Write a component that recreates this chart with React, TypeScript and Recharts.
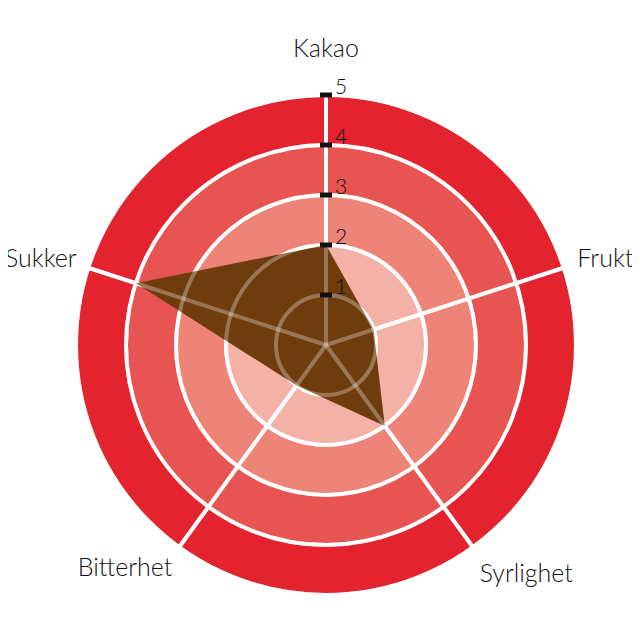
import React from "react";
import {
  PolarAngleAxis,
  PolarGrid,
  PolarRadiusAxis,
  Radar,
  RadarChart,
} from "recharts";

// smaksprofil
const attributes = ["Kakao", "Frukt", "Syrlighet", "Bitterhet", "Sukker"];
const scores = [2, 1, 2, 1, 4];
const bandLevels = [5, 4, 3, 2, 1];
const bandColors = ["#e3232d", "#e85451", "#ee8478", "#f4b1a5", "#f9d6ce"];
const radiusTicks = [0, 1, 2, 3, 4, 5];

const data = attributes.map((name, i) => {
  const row: Record<string, string | number> = { name, score: scores[i] };
  bandLevels.forEach((lvl) => {
    row["band" + lvl] = lvl;
  });
  return row;
});

const FONT = "Lato, 'Noto Sans', sans-serif";

const Band = (color: string) => (props: any) => {
  const p = props.points && props.points[0];
  if (!p) return null;
  return <circle cx={p.cx} cy={p.cy} r={p.radius} fill={color} />;
};

const AngleTick = (props: any) => {
  const { x, y, cx, cy, payload } = props;
  const dx = x - cx;
  const dy = y - cy;
  let anchor = "middle";
  let ox = 0;
  let oy = 0;
  if (Math.abs(dx) < 2) {
    oy = -40;
  } else if (dy < 0) {
    anchor = dx > 0 ? "start" : "end";
    ox = dx > 0 ? 6 : -4;
    oy = -8;
  } else if (dx > 0) {
    anchor = "start";
    ox = 2;
    oy = 18;
  } else {
    anchor = "end";
    ox = -2;
    oy = 12;
  }
  return (
    <text
      x={x + ox}
      y={y + oy}
      textAnchor={anchor}
      dominantBaseline="central"
      fontFamily={FONT}
      fontWeight={300}
      fontSize={25}
      fill="#111"
    >
      {payload.value}
    </text>
  );
};

const RadiusTick = (props: any) => {
  const { x, y, payload } = props;
  if (payload.value === 0) return <g />;
  return (
    <g>
      <rect x={x - 6} y={y - 2.5} width={12} height={5} fill="#111" />
      <text
        x={x + 9}
        y={y - 1}
        textAnchor="start"
        fontFamily={FONT}
        fontWeight={300}
        fontSize={21}
        fill="#111"
      >
        {payload.value}
      </text>
    </g>
  );
};

export default function App() {
  return (
    <div style={{ margin: "-8px 0 0 -8px", width: 640, height: 641 }}>
      <RadarChart
        width={640}
        height={641}
        data={data}
        cx={326}
        cy={345}
        outerRadius={250}
        margin={{ top: 0, right: 0, bottom: 0, left: 0 }}
      >
        {bandLevels.map((lvl, i) => (
          <Radar
            key={lvl}
            dataKey={"band" + lvl}
            shape={Band(bandColors[i])}
            isAnimationActive={false}
            zIndex={-300 + i}
          />
        ))}
        <PolarGrid
          gridType="circle"
          stroke="#fff"
          strokeWidth={4}
          zIndex={-100}
        />
        <Radar
          dataKey="score"
          fill="#6f3c0d"
          fillOpacity={1}
          stroke="none"
          isAnimationActive={false}
          zIndex={100}
        />
        <PolarGrid
          gridType="circle"
          stroke="#fff"
          strokeOpacity={0.3}
          strokeWidth={4}
          zIndex={200}
        />
        <PolarAngleAxis
          dataKey="name"
          tick={AngleTick}
          tickLine={false}
          axisLine={false}
        />
        <PolarRadiusAxis
          angle={90}
          domain={[0, 5]}
          ticks={radiusTicks as any}
          tickCount={6}
          tick={RadiusTick}
          axisLine={false}
          tickLine={false}
          zIndex={300}
        />
      </RadarChart>
    </div>
  );
}
